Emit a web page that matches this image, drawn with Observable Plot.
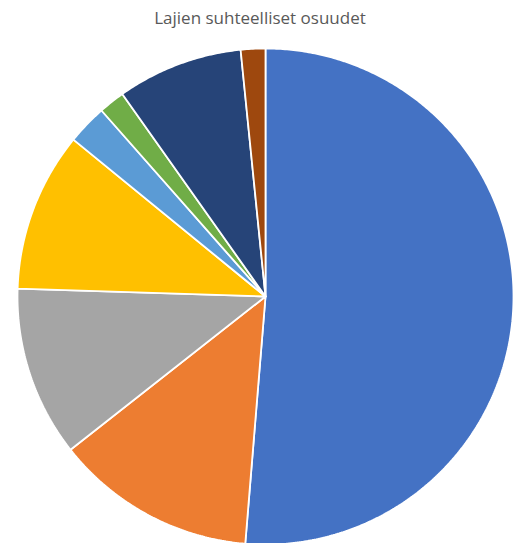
<!DOCTYPE html>
<html>
<head>
<meta charset="utf-8">
<script src="https://cdn.jsdelivr.net/npm/d3@7"></script>
<script src="https://cdn.jsdelivr.net/npm/@observablehq/plot@0.6"></script>
<style>
  html, body { margin: 0; padding: 0; background: #fff; }
  #title { height: 30px; line-height: 36px; text-align: center; font-family: "Open Sans", sans-serif; font-size: 17px; color: #595959; white-space: nowrap; }
  svg { overflow: visible; display: block; }
</style>
</head>
<body>
<div id="title">Lajien suhteelliset osuudet</div>
<div id="chart"></div>
<script>
// Data, clockwise from 12 o'clock
const categories = ["Laji 1", "Laji 2", "Laji 3", "Laji 4", "Laji 5", "Laji 6", "Laji 7", "Laji 8"];
const shares = [51.3, 13.1, 11.1, 10.4, 2.6, 1.7, 8.2, 1.6];
const colors = ["#4472C4", "#ED7D31", "#A5A5A5", "#FFC000", "#5B9BD5", "#70AD47", "#264478", "#9E480E"];

const data = categories.map((c, i) => ({category: c, value: shares[i]}));

// Pie layout from the data; slices become closed polygons in unit-circle space
const arcs = d3.pie().sort(null).value(d => d.value)(data);
const pts = [];
for (const a of arcs) {
  const cat = a.data.category;
  pts.push({category: cat, x: 0, y: 0});
  const n = Math.max(2, Math.ceil((a.endAngle - a.startAngle) / (Math.PI / 360)));
  for (let k = 0; k <= n; k++) {
    const t = a.startAngle + (a.endAngle - a.startAngle) * k / n;
    pts.push({category: cat, x: Math.sin(t), y: Math.cos(t)});
  }
  pts.push({category: cat, x: 0, y: 0});
}

const chart = Plot.plot({
  width: 520,
  height: 513,
  x: {domain: [-1, 1], range: [17, 513], axis: null},
  y: {domain: [-1, 1], range: [514, 18], axis: null},
  color: {domain: categories, range: colors},
  marks: [
    Plot.line(pts, {x: "x", y: "y", z: "category", fill: "category", stroke: "white", strokeWidth: 1.8, strokeLinejoin: "miter", curve: "linear"})
  ]
});
document.getElementById("chart").appendChild(chart);
</script>
</body>
</html>
